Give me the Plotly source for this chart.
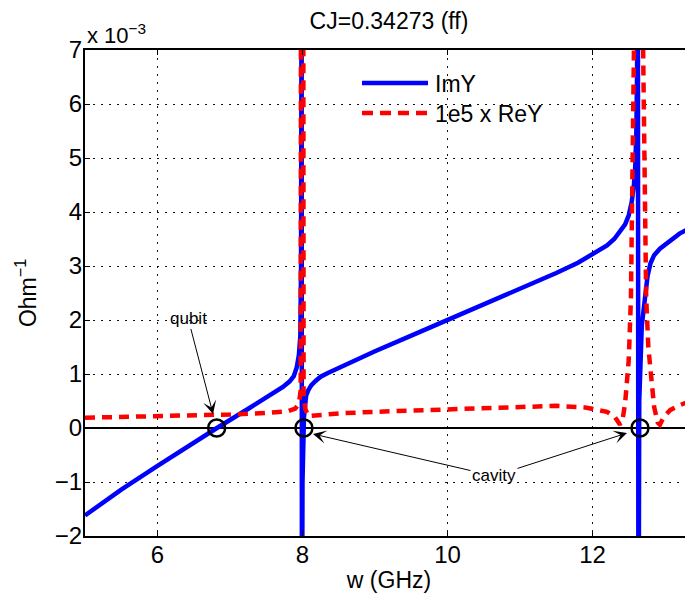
import plotly.graph_objects as go

# ---------------- data (values in units of 1e-3 Ohm^-1) ----------------
imy_w = [5.0, 5.5, 6.0, 6.4, 6.82, 7.28, 7.6, 7.73, 7.82, 7.88, 7.92, 7.95, 7.97, 7.98, 7.988,
         7.992, 8.0, 8.02, 8.03, 8.05, 8.08, 8.12, 8.18, 8.25, 8.35, 8.48, 8.66, 8.85, 9.0,
         9.5, 10.0, 10.5, 11.0, 11.5, 11.8, 12.0, 12.2, 12.3, 12.4, 12.45, 12.5, 12.54,
         12.57, 12.59, 12.605, 12.615, 12.625, 12.634, 12.645, 12.68, 12.71, 12.73, 12.76,
         12.8, 12.85, 12.93, 13.03, 13.2, 13.39]
imy_val = [-1.62, -1.14, -0.7, -0.35, 0.0, 0.38, 0.64, 0.76, 0.86, 0.96, 1.12, 1.35, 1.7, 3.0, 9.0,
           -5.0, -1.0, 0.2, 0.45, 0.6, 0.7, 0.79, 0.87, 0.95, 1.02, 1.1, 1.22, 1.33, 1.42,
           1.71, 2.0, 2.28, 2.57, 2.87, 3.06, 3.21, 3.38, 3.5, 3.66, 3.77, 3.94, 4.18,
           4.48, 4.85, 5.5, 6.6, 10.0, -5.0, 0.5, 1.9, 2.3, 2.55, 2.82,
           3.05, 3.2, 3.32, 3.42, 3.6, 3.73]

rey_w = [5.0, 5.5, 6.0, 6.5, 7.0, 7.5, 7.8, 7.9, 7.95, 7.975, 7.995, 8.015, 8.04, 8.08,
         8.15, 8.5, 9.0, 9.5, 10.0, 10.5, 11.0, 11.5, 11.9, 12.1, 12.2, 12.31, 12.38,
         12.42, 12.45, 12.5, 12.53, 12.635, 12.74, 12.77, 12.8, 12.85, 12.9, 12.93, 12.98,
         13.07, 13.2, 13.39]
rey_val = [0.19, 0.2, 0.21, 0.22, 0.25, 0.28, 0.31, 0.36, 0.45, 0.7, 40.0, 0.6, 0.35, 0.22,
           0.23, 0.27, 0.3, 0.32, 0.34, 0.37, 0.39, 0.41, 0.38, 0.33, 0.3, 0.2, 0.06,
           0.2, 0.46, 1.26, 2.4, 14.0, 2.43, 1.5, 1.0, 0.39, 0.1, 0.06, 0.2,
           0.33, 0.42, 0.52]

root_w = [6.816, 8.02, 12.655]
root_val = [0.0, 0.0, 0.0]

x_ticks = [6, 8, 10, 12]
y_ticks = [-2, -1, 0, 1, 2, 3, 4, 5, 6, 7]

# ---------------- layout geometry ----------------
OFF = 8                      # page body margin
W, H = 685, 589
L, R, T, B = 77, 0, 42, 61
PW, PH = W - L - R, H - T - B
FONT = "Liberation Sans, Arial, Helvetica, sans-serif"


def px(xw):
    """window x pixel -> paper fraction"""
    return (xw - OFF - L) / PW


def py(yw):
    """window y pixel -> paper fraction"""
    return (H - B - (yw - OFF)) / PH


fig = go.Figure()
fig.add_trace(go.Scatter(x=imy_w, y=imy_val, mode="lines", name="ImY",
                         line=dict(color="#0000ff", width=4.5), showlegend=False))
fig.add_trace(go.Scatter(x=rey_w, y=rey_val, mode="lines", name="1e5 x ReY",
                         line=dict(color="#ff0000", width=4.5, dash="10px,7px"), showlegend=False))
fig.add_trace(go.Scatter(x=root_w, y=root_val, mode="markers", showlegend=False,
                         marker=dict(size=17, color="rgba(0,0,0,0)",
                                     line=dict(color="black", width=2.5)),
                         cliponaxis=False))

axis_common = dict(showline=True, linecolor="black", linewidth=2,
                   ticks="inside", ticklen=5, tickwidth=1, tickcolor="black",
                   showgrid=True, gridcolor="#111111", gridwidth=1, griddash="2px,6px",
                   ticklabelstandoff=-4,
                   tickfont=dict(family=FONT, size=24, color="black"))

fig.update_layout(
    width=W, height=H,
    margin=dict(l=L, r=R, t=T, b=B, pad=0),
    paper_bgcolor="white", plot_bgcolor="white",
    font=dict(family=FONT, size=24, color="black"),
    showlegend=False,
    title=dict(text="CJ=0.34273 (ff)", x=0.5, xref="paper", y=1 - 13 / H, yref="container",
               xanchor="center", yanchor="middle", font=dict(family=FONT, size=23, color="black")),
    xaxis=dict(range=[5, 5 + PW / 72.5], tickvals=x_ticks, mirror="ticks",
               zeroline=False,
               title=dict(text="w (GHz)", standoff=5, font=dict(family=FONT, size=23)),
               **axis_common),
    yaxis=dict(range=[-2, 7], tickvals=y_ticks, mirror=False,
               zeroline=True, zerolinecolor="black", zerolinewidth=2,
               title=dict(text="Ohm<sup>\u22121</sup>", standoff=12, font=dict(family=FONT, size=23)),
               **axis_common),
)

# exponent label
fig.add_annotation(text="x 10<sup>\u22123</sup>", xref="paper", yref="paper", x=0, y=1,
                   xanchor="left", yanchor="bottom", showarrow=False, yshift=0,
                   font=dict(family=FONT, size=22, color="black"))

# manual legend (MATLAB style: long line samples, no box)
fig.add_shape(type="line", xref="paper", yref="paper", x0=px(362), x1=px(428), y0=py(83), y1=py(83),
              line=dict(color="#0000ff", width=4.5))
fig.add_shape(type="line", xref="paper", yref="paper", x0=px(362), x1=px(428), y0=py(113), y1=py(113),
              line=dict(color="#ff0000", width=4.5, dash="11px,7px"))
fig.add_annotation(text="ImY", xref="paper", yref="paper", x=px(433), y=py(84), xanchor="left",
                   yanchor="middle", showarrow=False, font=dict(family=FONT, size=23, color="black"))
fig.add_annotation(text="1e5 x ReY", xref="paper", yref="paper", x=px(433), y=py(114), xanchor="left",
                   yanchor="middle", showarrow=False, font=dict(family=FONT, size=23, color="black"))

# arrows + labels
ann_font = dict(family=FONT, size=17, color="black")
fig.add_annotation(text="qubit", x=6.766, y=0.259, xref="x", yref="y", ax=-25, ay=-96,
                   showarrow=True, arrowhead=3, arrowsize=2.2, arrowwidth=1, arrowcolor="black",
                   standoff=0, font=ann_font)
fig.add_annotation(text="cavity", x=8.145, y=-0.111, xref="x", yref="y", ax=181, ay=42,
                   showarrow=True, arrowhead=3, arrowsize=2.2, arrowwidth=1, arrowcolor="black",
                   standoff=0, font=ann_font)
fig.add_annotation(text="cavity", x=12.476, y=-0.093, xref="x", yref="y", ax=-133, ay=43,
                   showarrow=True, arrowhead=3, arrowsize=2.2, arrowwidth=1, arrowcolor="black",
                   standoff=0, font=dict(family=FONT, size=17, color="rgba(0,0,0,0)"))

fig.write_html("out.html")
